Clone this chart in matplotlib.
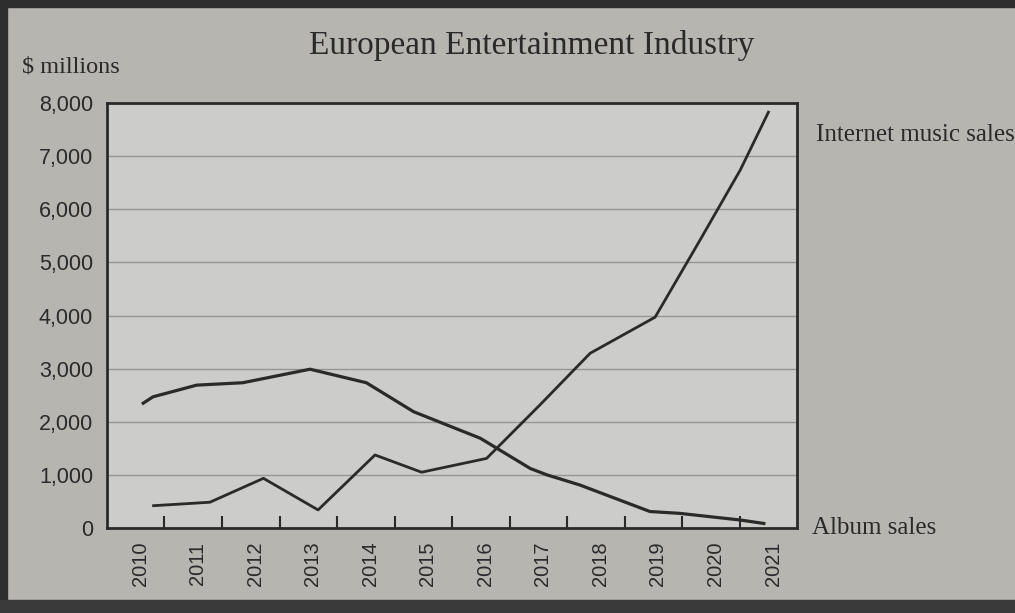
import matplotlib
matplotlib.use("Agg")
import matplotlib.pyplot as plt
from matplotlib.patches import Rectangle

# values ($ millions); x given as fractional year position
album_x = [2010.63, 2010.80, 2011.56, 2012.36, 2013.53, 2014.51, 2015.33, 2016.49,
           2017.36, 2017.65, 2018.22, 2019.44, 2019.96, 2021.01, 2021.42]
album_y = [2350, 2470, 2690, 2735, 2990, 2735, 2190, 1690,
           1120, 1000, 810, 310, 275, 150, 85]

internet_x = [2010.81, 2011.27, 2011.79, 2012.72, 2013.67, 2014.66, 2015.47, 2016.60,
              2017.53, 2018.40, 2019.53, 2020.31, 2021.01, 2021.50]
internet_y = [420, 450, 485, 935, 340, 1375, 1050, 1310,
              2320, 3290, 3970, 5420, 6740, 7830]

years = list(range(2010, 2022))
y_ticks = [0, 1000, 2000, 3000, 4000, 5000, 6000, 7000, 8000]

FIG_BG = "#b6b5b0"
AX_BG = "#ccccca"
INK = "#2a2a2a"
SERIF = ["Liberation Serif", "DejaVu Serif"]
SANS = ["Liberation Sans", "DejaVu Sans"]


def main():
    fig = plt.figure(figsize=(10.15, 6.13), dpi=100, facecolor=FIG_BG)
    ax = fig.add_axes([0.1054, 0.1387, 0.680, 0.693], facecolor=AX_BG)

    ax.plot(album_x, album_y, color=INK, lw=2.3, solid_joinstyle="round", zorder=3)
    ax.plot(internet_x, internet_y, color=INK, lw=2.0, solid_joinstyle="round", zorder=3)

    ax.set_xlim(2010, 2022)
    ax.set_ylim(0, 8000)

    # year boundaries get the tick marks, labels sit between them
    ax.set_xticks(years[1:])
    ax.set_xticklabels([])
    ax.set_xticks([y + 0.58 for y in years], minor=True)
    ax.set_xticklabels([str(y) for y in years], minor=True, rotation=90,
                       fontsize=14.5, family=SANS, color=INK)
    ax.tick_params(axis="x", which="major", direction="in", length=9, width=1.5, color=INK)
    ax.tick_params(axis="x", which="minor", length=0, pad=10)

    ax.set_yticks(y_ticks)
    ax.set_yticklabels([f"{v:,}" for v in y_ticks], fontsize=15.5, family=SANS, color=INK)
    ax.tick_params(axis="y", length=0, pad=10)

    for v in y_ticks[1:-1]:
        ax.axhline(v, color="#959592", lw=1.0, zorder=1)

    for s in ax.spines.values():
        s.set_color(INK)
        s.set_linewidth(2)

    fig.text(0.524, 0.925, "European Entertainment Industry", ha="center", va="center",
             fontsize=24, family=SERIF, color=INK)
    fig.text(0.022, 0.89, "$ millions", ha="left", va="center",
             fontsize=17.5, family=SERIF, color=INK)
    fig.text(0.804, 0.779, "Internet music sales", ha="left", va="center",
             fontsize=18, family=SERIF, color=INK)
    fig.text(0.800, 0.139, "Album sales", ha="left", va="center",
             fontsize=18, family=SERIF, color=INK)

    # dark edge of the scanned page
    fig.patches.append(Rectangle((0, 0), 0.007, 1, transform=fig.transFigure,
                                 color="#2e2e2e", zorder=0))
    fig.patches.append(Rectangle((0, 0.988), 1, 0.012, transform=fig.transFigure,
                                 color="#2e2e2e", zorder=0))
    fig.patches.append(Rectangle((0, 0), 1, 0.022, transform=fig.transFigure,
                                 color="#3a3a3a", zorder=0))

    plt.savefig("out.png", dpi=100, facecolor=FIG_BG)
    plt.close()


if __name__ == "__main__":
    main()
